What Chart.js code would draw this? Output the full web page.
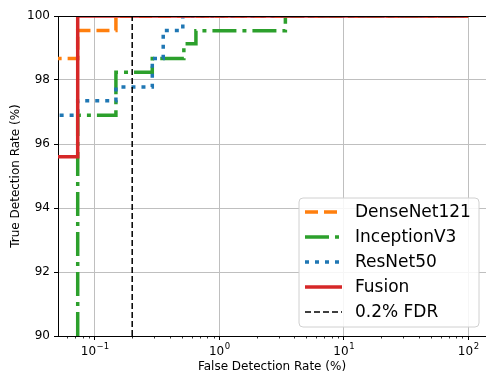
<!DOCTYPE html>
<html>
<head>
<meta charset="utf-8">
<script src="https://cdn.jsdelivr.net/npm/chart.js@4.4.0/dist/chart.umd.min.js"></script>
<style>
  html, body { margin: 0; padding: 0; background: #fff; overflow: hidden; }
</style>
</head>
<body>
<canvas id="myChart" width="486" height="374"></canvas>
<script>
// Curvas ROC (FDR en %, TDR en %)
const denseFdr = [0.03, 0.073, 0.073, 0.148, 0.148, 100]
const denseTdr = [98.67, 98.67, 99.55, 99.55, 100, 100]

const inceptionFdr = [0.073, 0.073, 0.148, 0.148, 0.29, 0.29, 0.52, 0.52, 0.65, 0.65, 3.4, 3.4, 100]
const inceptionTdr = [80, 96.9, 96.9, 98.24, 98.24, 98.67, 98.67, 99.13, 99.13, 99.54, 99.54, 100, 100]

const resnetFdr = [0.03, 0.073, 0.073, 0.148, 0.148, 0.29, 0.29, 0.355, 0.355, 0.51, 0.51, 100]
const resnetTdr = [96.9, 96.9, 97.35, 97.35, 97.78, 97.78, 98.67, 98.67, 99.55, 99.55, 100, 100]

const fusionFdr = [0.03, 0.073, 0.073, 100]
const fusionTdr = [95.6, 95.6, 100, 100]

const fdrLimit = 0.2

const seriesNames = ['DenseNet121', 'InceptionV3', 'ResNet50', 'Fusion', '0.2% FDR']

// Ticks (base y exponente de las etiquetas del eje x)
const xMajorTicks = [0.1, 1, 10, 100]
const xTickExponents = ['\u22121', '0', '1', '2']
const yTicks = [90, 92, 94, 96, 98, 100]

const X_MIN = 0.0507
const X_MAX = 139

function toPoints(xs, ys) {
    return xs.map((x, i) => ({ x: x, y: ys[i] }))
}

// ticks menores del eje logaritmico
function buildXTicks() {
    const ticks = []
    for (let e = -2; e <= 2; e++) {
        for (let m = 1; m <= 9; m++) {
            const v = +(m * Math.pow(10, e)).toPrecision(3)
            if (v >= X_MIN && v <= X_MAX) ticks.push({ value: v })
        }
    }
    return ticks
}

const isMajor = v => xMajorTicks.some(m => Math.abs(m - v) < 1e-9)

const FONT = "'DejaVu Sans', sans-serif"

const extrasPlugin = {
    id: 'extras',
    afterDraw(chart) {
        const { ctx, chartArea: { left, right, top, bottom } } = chart
        const xScale = chart.scales.x
        ctx.save()

        // ticks menores
        ctx.strokeStyle = '#000'
        ctx.lineWidth = 0.8
        xScale.ticks.forEach(t => {
            if (isMajor(t.value)) return
            const px = Math.round(xScale.getPixelForValue(t.value)) + 0.5
            ctx.beginPath()
            ctx.moveTo(px, bottom)
            ctx.lineTo(px, bottom + 2.5)
            ctx.stroke()
        })

        // etiquetas 10^n con superindice
        ctx.fillStyle = '#000'
        ctx.textBaseline = 'alphabetic'
        ctx.textAlign = 'left'
        xMajorTicks.forEach((v, i) => {
            const px = xScale.getPixelForValue(v)
            ctx.font = '12px ' + FONT
            const wBase = ctx.measureText('10').width
            ctx.font = '8.5px ' + FONT
            const wExp = ctx.measureText(xTickExponents[i]).width
            const x0 = px - (wBase + wExp) / 2
            ctx.font = '12px ' + FONT
            ctx.fillText('10', x0, bottom + 19)
            ctx.font = '8.5px ' + FONT
            ctx.fillText(xTickExponents[i], x0 + wBase + 0.5, bottom + 12.5)
        })

        // borde superior
        ctx.lineWidth = 1
        ctx.beginPath()
        ctx.moveTo(left, top + 0.5)
        ctx.lineTo(right, top + 0.5)
        ctx.stroke()

        // leyenda
        const bx = 299, by = 198, bw = 180, bh = 129, r = 4
        ctx.beginPath()
        ctx.moveTo(bx + r, by)
        ctx.arcTo(bx + bw, by, bx + bw, by + bh, r)
        ctx.arcTo(bx + bw, by + bh, bx, by + bh, r)
        ctx.arcTo(bx, by + bh, bx, by, r)
        ctx.arcTo(bx, by, bx + bw, by, r)
        ctx.closePath()
        ctx.fillStyle = 'rgba(255,255,255,0.85)'
        ctx.fill()
        ctx.strokeStyle = '#d0d0d0'
        ctx.lineWidth = 1
        ctx.stroke()

        ctx.font = '17px ' + FONT
        ctx.textBaseline = 'middle'
        ctx.textAlign = 'left'
        chart.data.datasets.forEach((ds, i) => {
            const yy = 212 + i * 25
            ctx.save()
            ctx.strokeStyle = ds.borderColor
            ctx.lineWidth = ds.borderWidth
            ctx.setLineDash(ds.borderDash || [])
            ctx.beginPath()
            ctx.moveTo(305, yy)
            ctx.lineTo(342, yy)
            ctx.stroke()
            ctx.restore()
            ctx.fillStyle = '#000'
            ctx.fillText(ds.label, 355, yy + 1)
        })

        ctx.restore()
    }
}

const ctx = document.getElementById('myChart').getContext('2d')
const myChart = new Chart(ctx, {
    type: 'line',
    data: {
        datasets: [
            {
                label: seriesNames[0],
                data: toPoints(denseFdr, denseTdr),
                borderColor: '#ff7f0e',
                borderWidth: 3.5,
                borderDash: [13, 6],
                order: 4
            },
            {
                label: seriesNames[1],
                data: toPoints(inceptionFdr, inceptionTdr),
                borderColor: '#2ca02c',
                borderWidth: 3.5,
                borderDash: [24, 6, 4, 6],
                order: 3
            },
            {
                label: seriesNames[2],
                data: toPoints(resnetFdr, resnetTdr),
                borderColor: '#1f77b4',
                borderWidth: 3.5,
                borderDash: [4, 6],
                order: 2
            },
            {
                label: seriesNames[3],
                data: toPoints(fusionFdr, fusionTdr),
                borderColor: '#d62728',
                borderWidth: 3.5,
                order: 1
            },
            {
                label: seriesNames[4],
                data: toPoints([fdrLimit, fdrLimit], [90, 100]),
                borderColor: '#000',
                borderWidth: 1.5,
                borderDash: [6, 3],
                order: 0
            }
        ]
    },
    options: {
        responsive: false,
        animation: false,
        clip: 0,
        layout: { padding: { top: 16, right: 0, bottom: 0, left: 0 } },
        elements: {
            point: { radius: 0, hoverRadius: 0 },
            line: { tension: 0, fill: false }
        },
        plugins: {
            legend: { display: false },
            tooltip: { enabled: false }
        },
        scales: {
            x: {
                type: 'logarithmic',
                min: X_MIN,
                max: X_MAX,
                afterBuildTicks: scale => { scale.ticks = buildXTicks() },
                afterFit: scale => { scale.height = 38 },
                ticks: {
                    autoSkip: false,
                    maxRotation: 0,
                    padding: 3,
                    color: '#000',
                    font: { family: FONT, size: 12 },
                    // las etiquetas se dibujan en el plugin (superindices)
                    callback: () => ''
                },
                grid: {
                    color: c => (c.tick && isMajor(c.tick.value)) ? '#bfbfbf' : 'rgba(0,0,0,0)',
                    tickColor: c => (c.tick && isMajor(c.tick.value)) ? '#000' : 'rgba(0,0,0,0)',
                    tickLength: 4,
                    lineWidth: 1
                },
                border: { color: '#000', width: 1 },
                title: {
                    display: true,
                    text: 'False Detection Rate (%)',
                    color: '#000',
                    font: { family: FONT, size: 12 },
                    padding: { top: 0, bottom: 0 }
                }
            },
            y: {
                min: 90,
                max: 100,
                afterBuildTicks: scale => { scale.ticks = yTicks.map(v => ({ value: v })) },
                afterFit: scale => { scale.width = 58 },
                ticks: {
                    padding: 4,
                    color: '#000',
                    font: { family: FONT, size: 12 },
                    callback: v => String(v)
                },
                grid: {
                    color: '#bfbfbf',
                    tickColor: '#000',
                    tickLength: 4,
                    lineWidth: 1
                },
                border: { color: '#000', width: 1 },
                title: {
                    display: true,
                    text: 'True Detection Rate (%)',
                    color: '#000',
                    font: { family: FONT, size: 12 },
                    padding: { top: 9, bottom: 0 }
                }
            }
        }
    },
    plugins: [extrasPlugin]
})
</script>
</body>
</html>
